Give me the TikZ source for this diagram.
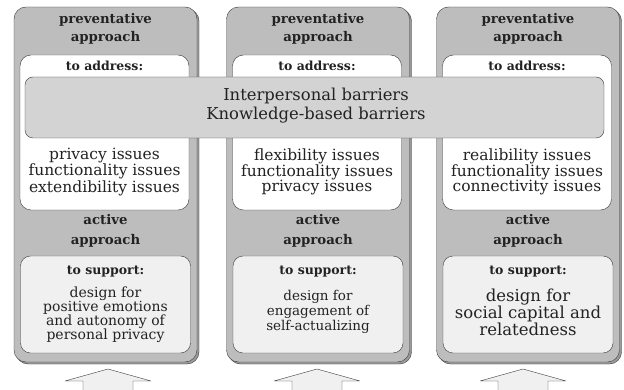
\documentclass[tikz,border=0pt]{standalone}
\usepackage{fontspec}
\setmainfont{DejaVu Serif}
\usetikzlibrary{positioning,calc}

\definecolor{colgray}{HTML}{BDBDBD}
\definecolor{shadegray}{HTML}{9A9A9A}
\definecolor{bargray}{HTML}{D3D3D3}
\definecolor{supgray}{HTML}{F0F0F0}
\definecolor{linegray}{HTML}{3A3A3A}
\definecolor{inkgray}{HTML}{222222}

\begin{document}
\begin{tikzpicture}[x=1pt,y=-1pt, line join=round, text=inkgray,
  colbox/.style={draw=linegray, fill=colgray, rounded corners=12pt, minimum width=183pt, minimum height=355pt, inner sep=0pt},
  colshade/.style={colbox, draw=linegray, fill=shadegray},
  addrbox/.style={draw=linegray, fill=white, rounded corners=11pt, minimum width=169pt, minimum height=155pt, inner sep=0pt},
  supbox/.style={draw=linegray, fill=supgray, rounded corners=10pt, minimum width=170pt, minimum height=97pt, inner sep=0pt},
  barbox/.style={draw=linegray, fill=bargray, rounded corners=8pt, minimum width=579pt, minimum height=61pt, inner sep=0pt},
  headtxt/.style={align=center, font=\fontsize{13.3}{18}\selectfont\bfseries, inner sep=0pt},
  tagtxt/.style={align=center, font=\fontsize{12.5}{14}\selectfont\bfseries, inner sep=0pt},
  issuetxt/.style={align=center, font=\fontsize{15.5}{15}\selectfont, inner sep=0pt},
  bartxt/.style={align=center, font=\fontsize{16.4}{19}\selectfont, inner sep=0pt},
  uparrow/.style={draw=linegray, fill=supgray}]
\useasboundingbox (0,0) rectangle (624,390);

% three columns
\foreach \i/\x/\ax in {1/105.5/108, 2/318/317, 3/528/523} {
  \node[colshade] at (\x+2,186.5) {};
  \node[colbox] (col\i) at (\x,184.5) {};
  \node[headtxt] (prev\i) at (\x,29) {preventative\\approach};
  \node[addrbox] (addr\i) at (\x-1,132.5) {};
  \node[tagtxt] (addrtag\i) at (\x-1,66) {to address:};
  \node[headtxt, font=\fontsize{13.3}{20}\selectfont\bfseries] (act\i) at (\x,231) {active\\approach};
  \node[supbox] (sup\i) at (\x,304.5) {};
  \node[tagtxt] (suptag\i) at (\x,272) {to support:};
  \coordinate (tip\i) at (\ax,369);
  \draw[uparrow] (tip\i) -- ++(43,12) -- ++(-18,0) -- ++(0,12) -- ++(-50,0)
    -- ++(0,-12) -- ++(-18,0) -- cycle;
}

% barriers across all columns
\node[barbox] (bar) at (314.5,107.5) {};
\node[bartxt] (bartext) at (316,106) {Interpersonal barriers\\Knowledge-based barriers};

% issues
\node[issuetxt] (iss1) at (addr1|-0,172) {privacy issues\\functionality issues\\extendibility issues};
\node[issuetxt] (iss2) at (addr2|-0,172) {flexibility issues\\functionality issues\\privacy issues};
\node[issuetxt] (iss3) at (addr3|-0,172) {realibility issues\\functionality issues\\connectivity issues};

% design goals
\node[issuetxt, font=\fontsize{14}{14}\selectfont] (goal1) at (sup1|-0,315) {design for\\positive emotions\\and autonomy of\\personal privacy};
\node[issuetxt, font=\fontsize{13.5}{15}\selectfont] (goal2) at (sup2|-0,312) {design for\\engagement of\\self-actualizing};
\node[issuetxt, font=\fontsize{16.5}{17}\selectfont] (goal3) at (sup3|-0,312) {design for\\social capital and\\relatedness};
\end{tikzpicture}
\end{document}
